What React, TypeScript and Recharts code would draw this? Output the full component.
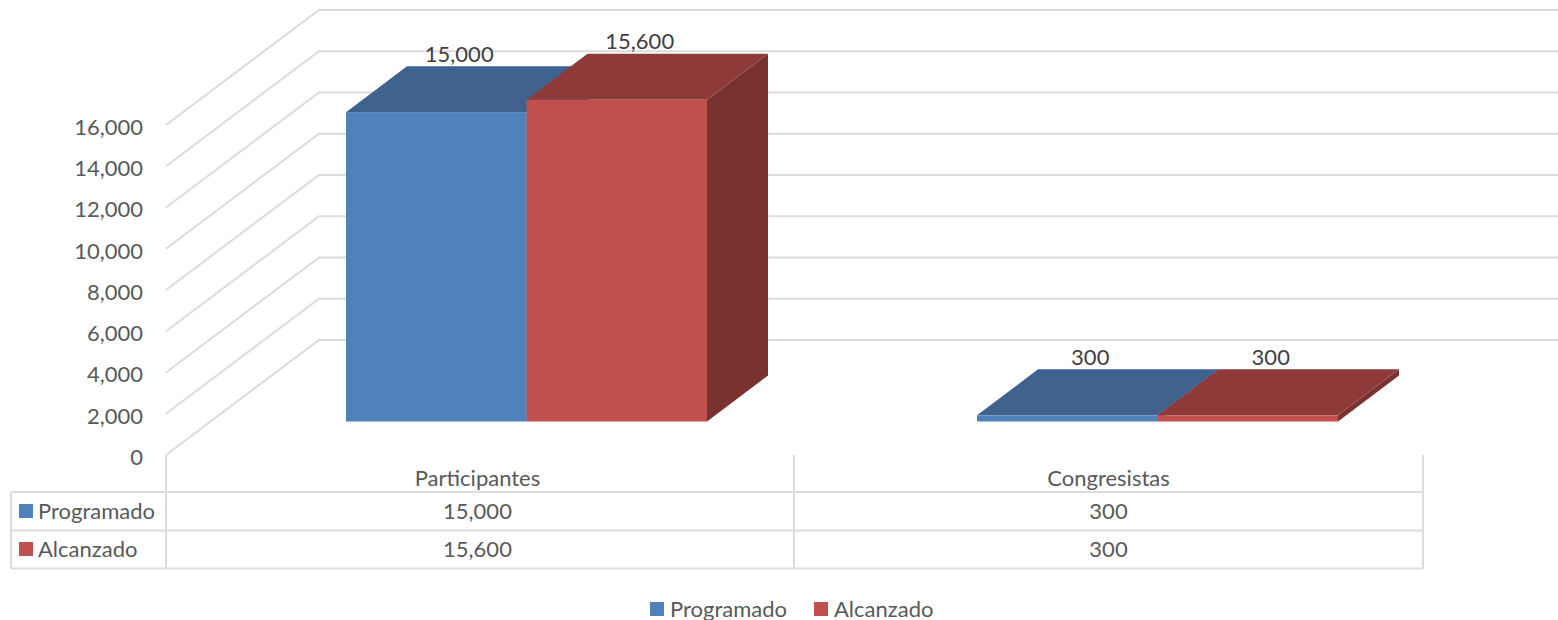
import { BarChart, Bar, XAxis, YAxis, CartesianGrid, Legend, LabelList } from 'recharts';

const categories = ['Participantes', 'Congresistas'];
const programado = [15000, 300];
const alcanzado = [15600, 300];
const yTicks = [0, 2000, 4000, 6000, 8000, 10000, 12000, 14000, 16000];

const data = categories.map((name, i) => ({ name, programado: programado[i], alcanzado: alcanzado[i] }));

const FONT = 'Lato, Carlito, sans-serif';
const FONT_SIZE = 22;
const GRID = '#dcdcdc';
const TEXT = '#595959';
const fmt = (v: number) => v.toLocaleString('en-US');

// the bars stand inside the floor, so they are shifted from the front edge
const SHIFT_X = 45;
const SHIFT_Y = -33.5;
const DEPTH_X = 61;
const DEPTH_Y = -46;

function Box3D(props: any) {
  const { x, y, width, height, front, top, side } = props;
  const l = x + SHIFT_X;
  const r = l + width;
  const t = y + SHIFT_Y;
  const b = t + height;
  return (
    <g>
      <polygon points={`${r},${t} ${r + DEPTH_X},${t + DEPTH_Y} ${r + DEPTH_X},${b + DEPTH_Y} ${r},${b}`} fill={side} />
      <polygon points={`${l},${t} ${l + DEPTH_X},${t + DEPTH_Y} ${r + DEPTH_X},${t + DEPTH_Y} ${r},${t}`} fill={top} />
      <rect x={l} y={t} width={width} height={height} fill={front} />
    </g>
  );
}

function BarLabel(props: any) {
  const { x, y, width, value } = props;
  return (
    <text x={x + SHIFT_X + width / 2 + 23} y={y + SHIFT_Y - 59} textAnchor="middle" dominantBaseline="central"
      fontFamily={FONT} fontSize={FONT_SIZE} fill="#404040">
      {fmt(value)}
    </text>
  );
}

function GridLine(props: any) {
  const { x1, y1 } = props;
  return (
    <polyline points={`${x1},${y1} ${x1 + 153},${y1 - 115} 1558,${y1 - 115}`} fill="none" stroke={GRID} strokeWidth={2} />
  );
}

function TableTick(props: any) {
  const { x, index, payload } = props;
  const cx = x - 4;
  const common = { x: cx, textAnchor: 'middle' as const, dominantBaseline: 'central' as const, fontFamily: FONT, fontSize: FONT_SIZE, fill: TEXT };
  return (
    <g>
      <text {...common} y={477}>{payload.value}</text>
      <text {...common} y={510}>{fmt(programado[index])}</text>
      <text {...common} y={548}>{fmt(alcanzado[index])}</text>
    </g>
  );
}

function TableFrame() {
  const rows = [492, 530.5, 568.5];
  const cols = [166, 794, 1423];
  return (
    <g>
      {rows.map(y => <line key={y} x1={11} x2={1423} y1={y} y2={y} stroke={GRID} strokeWidth={2} />)}
      <line x1={11} x2={11} y1={492} y2={568.5} stroke={GRID} strokeWidth={2} />
      {cols.map(x => <line key={x} x1={x} x2={x} y1={455} y2={568.5} stroke={GRID} strokeWidth={2} />)}
      <rect x={19} y={504} width={14} height={14} fill="#4f81bd" />
      <text x={38} y={510} dominantBaseline="central" fontFamily={FONT} fontSize={FONT_SIZE} fill={TEXT}>Programado</text>
      <rect x={19} y={542} width={14} height={14} fill="#c0504d" />
      <text x={38} y={548} dominantBaseline="central" fontFamily={FONT} fontSize={FONT_SIZE} fill={TEXT}>Alcanzado</text>
    </g>
  );
}

function BottomLegend({ payload }: any) {
  return (
    <div style={{ display: 'flex', alignItems: 'center', gap: 27, fontFamily: FONT, fontSize: FONT_SIZE, color: TEXT, lineHeight: '26px' }}>
      {(payload ?? []).map((item: any) => (
        <div key={item.value} style={{ display: 'flex', alignItems: 'center', gap: 6 }}>
          <span style={{ width: 14, height: 14, background: item.color, display: 'inline-block' }} />
          <span>{item.value}</span>
        </div>
      ))}
    </div>
  );
}

export default function App() {
  return (
    <div style={{ position: 'absolute', left: 0, top: 0, width: 1558, height: 620 }}>
      <BarChart width={1558} height={620} data={data} barSize={180.5} barGap={0} barCategoryGap={0}
        margin={{ top: 125, right: 130, bottom: 0, left: 0 }}>
        <CartesianGrid vertical={false} horizontal={(p: any) => <GridLine key={p.key ?? p.y1} {...p} />} />
        <XAxis dataKey="name" height={139} axisLine={false} tickLine={false} interval={0} tick={(p: any) => <TableTick {...p} />} />
        <YAxis width={166} domain={[0, 16000]} ticks={yTicks} interval={0} axisLine={false} tickLine={false} tickMargin={17}
          tickFormatter={fmt} tick={{ fontFamily: FONT, fontSize: FONT_SIZE, fill: TEXT, dy: 2 }} />
        <Legend height={26} itemSorter={null} content={<BottomLegend />}
          wrapperStyle={{ left: 650, width: 400, top: 596, bottom: 'auto', height: 26 }} />
        <Bar dataKey="programado" name="Programado" fill="#4f81bd" isAnimationActive={false}
          shape={(p: any) => <Box3D {...p} front="#4f81bd" top="#3f628f" side="#3a5a84" />}>
          <LabelList dataKey="programado" content={<BarLabel />} />
        </Bar>
        <Bar dataKey="alcanzado" name="Alcanzado" fill="#c0504d" isAnimationActive={false}
          shape={(p: any) => <Box3D {...p} front="#c0504d" top="#8e3a39" side="#7a3230" />}>
          <LabelList dataKey="alcanzado" content={<BarLabel />} />
        </Bar>
        <TableFrame />
      </BarChart>
    </div>
  );
}
